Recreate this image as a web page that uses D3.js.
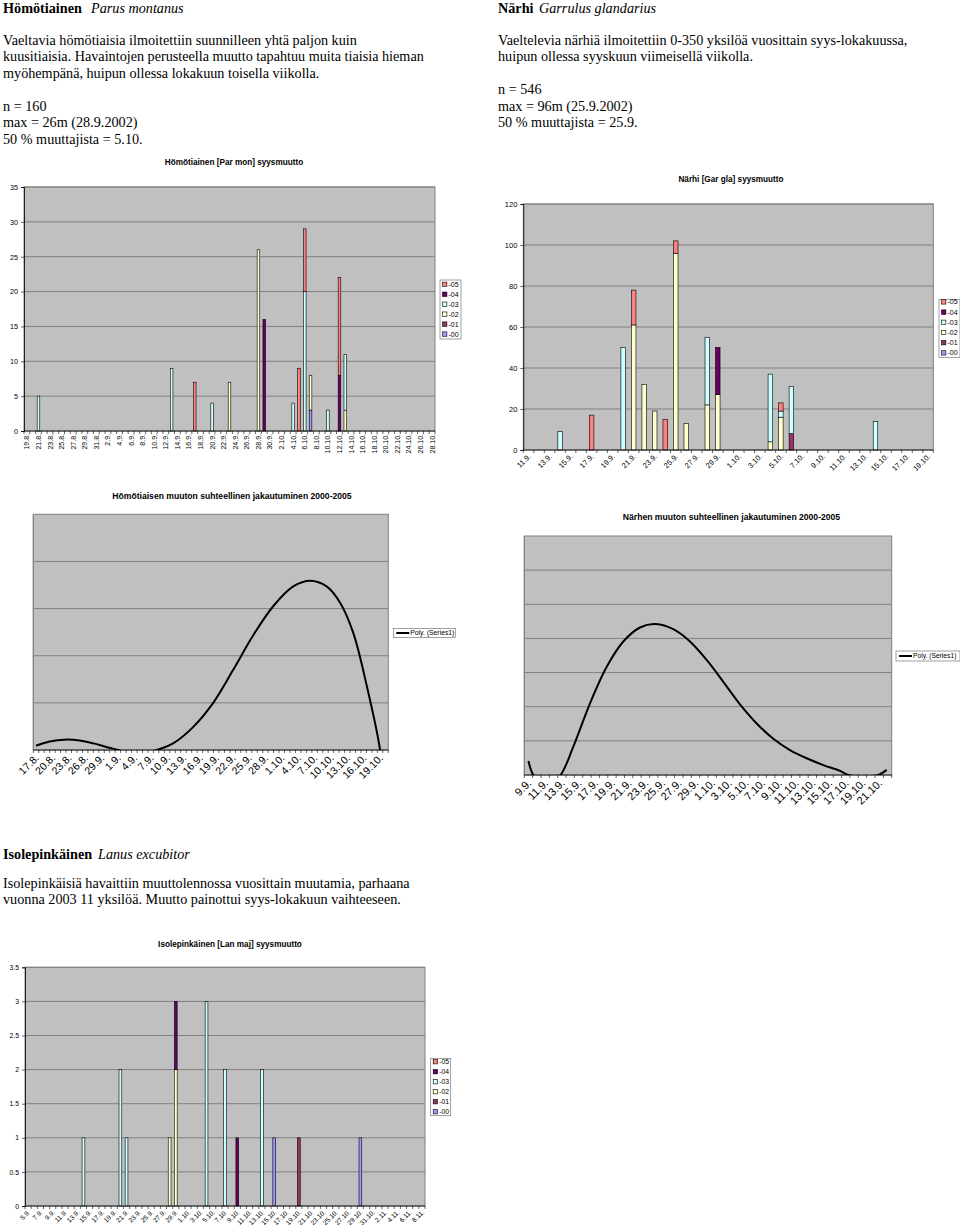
<!DOCTYPE html>
<html><head><meta charset="utf-8">
<script src="https://cdn.jsdelivr.net/npm/d3@7"></script>
<style>body{margin:0;background:#fff}svg{display:block}</style>
</head><body>
<script>
// ---------- shared series ----------
const seriesNames = ["-00","-01","-02","-03","-04","-05"];
const seriesColors = ["#9999FF","#993366","#FFFFCC","#CCFFFF","#660066","#FF8080"];

// ---------- Hömötiainen [Par mon] ----------
const homCats = ("19.8. 20.8. 21.8. 22.8. 23.8. 24.8. 25.8. 26.8. 27.8. 28.8. 29.8. 30.8. 31.8. " +
  "1.9. 2.9. 3.9. 4.9. 5.9. 6.9. 7.9. 8.9. 9.9. 10.9. 11.9. 12.9. 13.9. 14.9. 15.9. 16.9. 17.9. 18.9. 19.9. 20.9. " +
  "21.9. 22.9. 23.9. 24.9. 25.9. 26.9. 27.9. 28.9. 29.9. 30.9. " +
  "1.10. 2.10. 3.10. 4.10. 5.10. 6.10. 7.10. 8.10. 9.10. 10.10. 11.10. 12.10. 13.10. 14.10. 15.10. 16.10. " +
  "17.10. 18.10. 19.10. 20.10. 21.10. 22.10. 23.10. 24.10. 25.10. 26.10. 27.10. 28.10.").split(" ");
const hom00 = [["7.10.",3]];
const hom01 = [];
const hom02 = [["23.9.",7],["28.9.",26],["7.10.",5],["13.10.",3]];
const hom03 = [["21.8.",5],["13.9.",9],["20.9.",4],["4.10.",4],["6.10.",20],["10.10.",3],["13.10.",8]];
const hom04 = [["29.9.",16],["12.10.",8]];
const hom05 = [["17.9.",7],["5.10.",9],["6.10.",9],["12.10.",14]];
const homYTicks = [0,5,10,15,20,25,30,35];

// ---------- Närhi [Gar gla] ----------
const narCats = ("11.9. 12.9. 13.9. 14.9. 15.9. 16.9. 17.9. 18.9. 19.9. 20.9. 21.9. 22.9. 23.9. 24.9. 25.9. " +
  "26.9. 27.9. 28.9. 29.9. 30.9. 1.10. 2.10. 3.10. 4.10. 5.10. 6.10. 7.10. 8.10. 9.10. 10.10. 11.10. " +
  "12.10. 13.10. 14.10. 15.10. 16.10. 17.10. 18.10. 19.10.").split(" ");
const nar00 = [];
const nar01 = [["6.10.",8]];
const nar02 = [["21.9.",61],["22.9.",32],["23.9.",19],["25.9.",96],["26.9.",13],["28.9.",22],["29.9.",27],["4.10.",4],["5.10.",16]];
const nar03 = [["14.9.",9],["20.9.",50],["28.9.",33],["4.10.",33],["5.10.",3],["6.10.",23],["14.10.",14]];
const nar04 = [["29.9.",23]];
const nar05 = [["17.9.",17],["21.9.",17],["24.9.",15],["25.9.",6],["5.10.",4]];
const narYTicks = [0,20,40,60,80,100,120];

// ---------- Hömötiaisen muuton suhteellinen jakautuminen ----------
const homPolyCats = ("17.8. 18.8. 19.8. 20.8. 21.8. 22.8. 23.8. 24.8. 25.8. 26.8. 27.8. 28.8. 29.9. 30.8. 31.8. " +
  "1.9. 2.9. 3.9. 4.9. 5.9. 6.9. 7.9. 8.9. 9.9. 10.9. 11.9. 12.9. 13.9. 14.9. 15.9. 16.9. 17.9. 18.9. 19.9. 20.9. " +
  "21.9. 22.9. 23.9. 24.9. 25.9. 26.9. 27.9. 28.9. 29.9. 30.9. " +
  "1.10. 2.10. 3.10. 4.10. 5.10. 6.10. 7.10. 8.10. 9.10. 10.10. 11.10. 12.10. 13.10. 14.10. 15.10. 16.10. " +
  "17.10. 18.10. 19.10. 20.10.").split(" ");
// trendline: [category position, relative value]
const homPolyX = [0, 2.5, 5.3, 8, 10.5, 13, 15.1, 18.5, 22.1, 25.1, 28.8, 32.5, 36.1, 39.8, 43.5, 47.1, 50.2, 53.2, 55.7, 58.1, 60.6, 63, 64];
const homPolyY = [0.09, 0.18, 0.22, 0.2, 0.14, 0.06, 0, -0.12, 0, 0.14, 0.49, 1.01, 1.70, 2.44, 3.06, 3.47, 3.59, 3.47, 3.12, 2.48, 1.34, 0, -1.2];

// ---------- Närhen muuton suhteellinen jakautuminen ----------
const narPolyCats = ("9.9. 10.9. 11.9. 12.9. 13.9. 14.9. 15.9. 16.9. 17.9. 18.9. 19.9. 20.9. 21.9. 22.9. 23.9. 24.9. 25.9. " +
  "26.9. 27.9. 28.9. 29.9. 30.9. 1.10. 2.10. 3.10. 4.10. 5.10. 6.10. 7.10. 8.10. 9.10. 10.10. 11.10. " +
  "12.10. 13.10. 14.10. 15.10. 16.10. 17.10. 18.10. 19.10. 20.10. 21.10. 22.10.").split(" ");
const narPolyX = [0, 0.58, 2.2, 3.86, 5.37, 7.37, 9.37, 11.36, 13.36, 15.07, 17.34, 19.34, 21.34, 23.33, 25.33, 27.33, 29.32, 31.32, 33.32, 35.31, 37.31, 38.3, 40, 41.9, 42.9];
const narPolyY = [0.41, 0, -0.4, 0, 0.83, 2.10, 3.17, 3.91, 4.32, 4.42, 4.27, 3.91, 3.37, 2.73, 2.07, 1.51, 1.06, 0.73, 0.49, 0.29, 0.12, 0, -0.05, 0, 0.15];

// ---------- Isolepinkäinen [Lan maj] ----------
const lanCats = ("5.9. 6.9. 7.9. 8.9. 9.9. 10.9. 11.9. 12.9. 13.9. 14.9. 15.9. 16.9. 17.9. 18.9. 19.9. 20.9. " +
  "21.9. 22.9. 23.9. 24.9. 25.9. 26.9. 27.9. 28.9. 29.9. 30.9. " +
  "1.10. 2.10. 3.10. 4.10. 5.10. 6.10. 7.10. 8.10. 9.10. 10.10. 11.10. 12.10. 13.10. 14.10. 15.10. 16.10. " +
  "17.10. 18.10. 19.10. 20.10. 21.10. 22.10. 23.10. 24.10. 25.10. 26.10. 27.10. 28.10. 29.10. 30.10. 31.10. " +
  "1.11. 2.11. 3.11. 4.11. 5.11. 6.11. 7.11. 8.11.").split(" ");
const lan00 = [["15.10.",1],["29.10.",1]];
const lan01 = [["19.10.",1]];
const lan02 = [["28.9.",1],["29.9.",2]];
const lan03 = [["14.9.",1],["20.9.",2],["21.9.",1],["4.10.",3],["7.10.",2],["13.10.",2]];
const lan04 = [["29.9.",1],["9.10.",1]];
const lan05 = [];
const lanYTicks = [0,0.5,1,1.5,2,2.5,3,3.5];

// ================= drawing =================
const SANS = 'Arial, "Liberation Sans", Helvetica, sans-serif';
const SERIF = '"Times New Roman", "Liberation Serif", Times, serif';
const svg = d3.select("body").append("svg").attr("width",960).attr("height",1230);
svg.append("rect").attr("width",960).attr("height",1230).attr("fill","#fff");

function textBlock(x, heading, latin, latinX, headY, lines, lineYs){
  const t = svg.append("text").attr("x",x).attr("y",headY).style("font",`14.2px ${SERIF}`).attr("fill","#000");
  t.append("tspan").attr("font-weight","bold").text(heading);
  t.append("tspan").attr("x",latinX).attr("font-style","italic").text(latin);
  lines.forEach((l,i)=>{
    svg.append("text").attr("x",x).attr("y",lineYs[i]).style("font",`14.2px ${SERIF}`).attr("fill","#000").text(l);
  });
}

function stackData(cats, series){
  return cats.map((c,i)=>{
    let y0 = 0; const segs = [];
    series.forEach((s,k)=>{
      const e = s.find(d=>d[0]===c);
      if(e && e[1]>0){ segs.push({i,k,y0,y1:y0+e[1]}); y0 += e[1]; }
    });
    return segs;
  }).flat();
}

function xAxisCommon(g, o, x){
  const n = o.cats.length;
  const bottom = o.y + o.h;
  g.append("g").selectAll("line").data(d3.range(n+1)).join("line")
    .attr("x1", i=>o.x + i*x.step()).attr("x2", i=>o.x + i*x.step())
    .attr("y1", bottom).attr("y2", bottom+3).attr("stroke","#000").attr("stroke-width",0.6);
  const xa = g.append("g").attr("transform",`translate(0,${bottom})`)
    .call(d3.axisBottom(x).tickValues(d3.range(0,n,o.every)).tickSize(0).tickFormat(i=>o.cats[i]));
  xa.select(".domain").remove();
  xa.selectAll("text").attr("x",0).attr("y",0).attr("dy","0.35em").attr("text-anchor","end")
    .attr("transform",`translate(${o.lx},${o.ly}) rotate(${o.rot})`)
    .style("font",`${o.xFont}px ${SANS}`).attr("fill","#000");
  g.append("line").attr("x1",o.x).attr("x2",o.x+o.w).attr("y1",bottom).attr("y2",bottom)
    .attr("stroke","#000").attr("stroke-width",0.8);
}

function barChart(o){
  const g = svg.append("g");
  const n = o.cats.length;
  const x = d3.scaleBand().domain(d3.range(n)).range([o.x, o.x+o.w]);
  const y = d3.scaleLinear().domain([0, d3.max(o.yTicks)]).range([o.y+o.h, o.y]);
  g.append("rect").attr("x",o.x).attr("y",o.y).attr("width",o.w).attr("height",o.h)
    .attr("fill","#C0C0C0").attr("stroke","#808080").attr("stroke-width",1);
  g.append("g").selectAll("line").data(o.yTicks.slice(1)).join("line")
    .attr("x1",o.x).attr("x2",o.x+o.w).attr("y1",d=>y(d)).attr("y2",d=>y(d))
    .attr("stroke","#808080").attr("stroke-width",1);
  const segs = stackData(o.cats, o.series);
  const bw = x.bandwidth()*o.barFrac;
  g.append("g").selectAll("rect").data(segs).join("rect")
    .attr("x", d=>x(d.i)+(x.bandwidth()-bw)/2).attr("width", bw)
    .attr("y", d=>y(d.y1)).attr("height", d=>y(d.y0)-y(d.y1))
    .attr("fill", d=>seriesColors[d.k]).attr("stroke","#000").attr("stroke-width",0.6);
  const ya = g.append("g").attr("transform",`translate(${o.x},0)`)
    .call(d3.axisLeft(y).tickValues(o.yTicks).tickSize(3).tickPadding(3).tickFormat(d3.format("~g")));
  ya.selectAll("text").style("font",`${o.yFont}px ${SANS}`).attr("fill","#000");
  ya.selectAll(".tick line").attr("stroke","#000").attr("stroke-width",0.6);
  ya.select(".domain").attr("stroke","#000").attr("stroke-width",0.8);
  xAxisCommon(g, o, x);
  g.append("text").attr("x",o.titleX).attr("y",o.titleY).attr("text-anchor","middle")
    .style("font",`bold ${o.titleFont}px ${SANS}`).attr("fill","#000").text(o.title);
  const L = o.legend;
  g.append("rect").attr("x",L.x).attr("y",L.y).attr("width",L.w).attr("height",L.h)
    .attr("fill","#fff").attr("stroke","#777").attr("stroke-width",0.7);
  const order = d3.range(seriesNames.length).reverse();
  order.forEach((k,j)=>{
    const cy = L.y + L.first + j*L.step;
    g.append("rect").attr("x",L.x+2.5).attr("y",cy-2.2).attr("width",4.4).attr("height",4.4)
      .attr("fill",seriesColors[k]).attr("stroke","#000").attr("stroke-width",0.6);
    g.append("text").attr("x",L.x+8.5).attr("y",cy).attr("dy","0.35em")
      .style("font",`${L.font}px ${SANS}`).attr("fill","#000").text(seriesNames[k]);
  });
}

let clipId = 0;
function polyChart(o){
  const g = svg.append("g");
  const n = o.cats.length;
  const x = d3.scaleBand().domain(d3.range(n)).range([o.x, o.x+o.w]);
  const xl = d3.scaleLinear().domain([-0.5, n-0.5]).range([o.x, o.x+o.w]);
  const y = d3.scaleLinear().domain([0, o.yMax]).range([o.y+o.h, o.y]);
  g.append("rect").attr("x",o.x).attr("y",o.y).attr("width",o.w).attr("height",o.h)
    .attr("fill","#C0C0C0").attr("stroke","#808080").attr("stroke-width",1);
  g.append("g").selectAll("line").data(d3.range(1, o.yMax)).join("line")
    .attr("x1",o.x).attr("x2",o.x+o.w).attr("y1",d=>y(d)).attr("y2",d=>y(d))
    .attr("stroke","#808080").attr("stroke-width",1);
  g.append("line").attr("x1",o.x).attr("x2",o.x).attr("y1",o.y).attr("y2",o.y+o.h)
    .attr("stroke","#808080").attr("stroke-width",1);
  const id = "clip" + (clipId++);
  g.append("clipPath").attr("id",id).append("rect")
    .attr("x",o.x).attr("y",o.y).attr("width",o.w).attr("height",o.h);
  const pts = o.px.map((v,i)=>[v, o.py[i]]);
  g.append("path").attr("clip-path",`url(#${id})`).datum(pts)
    .attr("d", d3.line().x(d=>xl(d[0])).y(d=>y(d[1])).curve(d3.curveCatmullRom.alpha(0.5)))
    .attr("fill","none").attr("stroke","#000").attr("stroke-width",2);
  xAxisCommon(g, o, x);
  g.append("text").attr("x",o.titleX).attr("y",o.titleY).attr("text-anchor","middle")
    .style("font",`bold ${o.titleFont}px ${SANS}`).attr("fill","#000").text(o.title);
  const L = o.legend;
  g.append("rect").attr("x",L.x).attr("y",L.y).attr("width",L.w).attr("height",L.h)
    .attr("fill","#fff").attr("stroke","#777").attr("stroke-width",0.7);
  g.append("line").attr("x1",L.x+3).attr("x2",L.x+16).attr("y1",L.y+L.h/2).attr("y2",L.y+L.h/2)
    .attr("stroke","#000").attr("stroke-width",2);
  g.append("text").attr("x",L.x+17).attr("y",L.y+L.h/2).attr("dy","0.35em")
    .style("font",`${L.font}px ${SANS}`).attr("fill","#000").text("Poly. (Series1)");
}

// ---------- texts ----------
textBlock(3, "Hömötiainen", "Parus montanus", 91, 12.5,
  ["Vaeltavia hömötiaisia ilmoitettiin suunnilleen yhtä paljon kuin",
   "kuusitiaisia. Havaintojen perusteella muutto tapahtuu muita tiaisia hieman",
   "myöhempänä, huipun ollessa lokakuun toisella viikolla.",
   "n = 160", "max = 26m (28.9.2002)", "50 % muuttajista = 5.10."],
  [45, 61.3, 77.5, 110.5, 127.3, 143.5]);
textBlock(498, "Närhi", "Garrulus glandarius", 539, 12.5,
  ["Vaeltelevia närhiä ilmoitettiin 0-350 yksilöä vuosittain syys-lokakuussa,",
   "huipun ollessa syyskuun viimeisellä viikolla.",
   "n = 546", "max = 96m (25.9.2002)", "50 % muuttajista = 25.9."],
  [45, 61.3, 93.5, 110.5, 127]);
textBlock(3, "Isolepinkäinen", "Lanus excubitor", 98, 858.5,
  ["Isolepinkäisiä havaittiin muuttolennossa vuosittain muutamia, parhaana",
   "vuonna 2003 11 yksilöä. Muutto painottui syys-lokakuun vaihteeseen."],
  [887.5, 904]);

// ---------- charts ----------
barChart({cats:homCats, series:[hom00,hom01,hom02,hom03,hom04,hom05], yTicks:homYTicks,
  x:24, y:187, w:411, h:244, barFrac:0.45, yFont:7.2, xFont:7, every:2, rot:-90, lx:0, ly:3,
  title:"Hömötiainen [Par mon] syysmuutto", titleX:234, titleY:165, titleFont:8.2,
  legend:{x:440, y:280, w:21, h:59, first:4.3, step:9.95, font:7}});

barChart({cats:narCats, series:[nar00,nar01,nar02,nar03,nar04,nar05], yTicks:narYTicks,
  x:523.3, y:204, w:410, h:246, barFrac:0.43, yFont:7.5, xFont:7.5, every:2, rot:-45, lx:1, ly:5,
  title:"Närhi [Gar gla] syysmuutto", titleX:731, titleY:182, titleFont:8.2,
  legend:{x:939, y:299.3, w:21, h:58, first:2.6, step:10.2, font:7}});

polyChart({cats:homPolyCats, px:homPolyX, py:homPolyY, yMax:5,
  x:33.3, y:514.3, w:355, h:235.7, xFont:10.5, every:3, rot:-45, lx:1, ly:6,
  title:"Hömötiaisen muuton suhteellinen jakautuminen 2000-2005", titleX:232, titleY:499, titleFont:8.6,
  legend:{x:393.3, y:628.5, w:62, h:9, font:6.8}});

polyChart({cats:narPolyCats, px:narPolyX, py:narPolyY, yMax:7,
  x:524.3, y:536, w:367.4, h:239, xFont:11, every:2, rot:-45, lx:1, ly:6,
  title:"Närhen muuton suhteellinen jakautuminen 2000-2005", titleX:731.5, titleY:520, titleFont:8.6,
  legend:{x:896, y:651, w:64, h:10, font:6.7}});

barChart({cats:lanCats, series:[lan00,lan01,lan02,lan03,lan04,lan05], yTicks:lanYTicks,
  x:25, y:967.3, w:400, h:238.7, barFrac:0.45, yFont:6.8, xFont:6.6, every:2, rot:-45, lx:1, ly:5,
  title:"Isolepinkäinen [Lan maj] syysmuutto", titleX:230, titleY:946.5, titleFont:8.2,
  legend:{x:430.7, y:1058.3, w:20, h:57.4, first:3.4, step:10, font:6.8}});
</script>
</body></html>
